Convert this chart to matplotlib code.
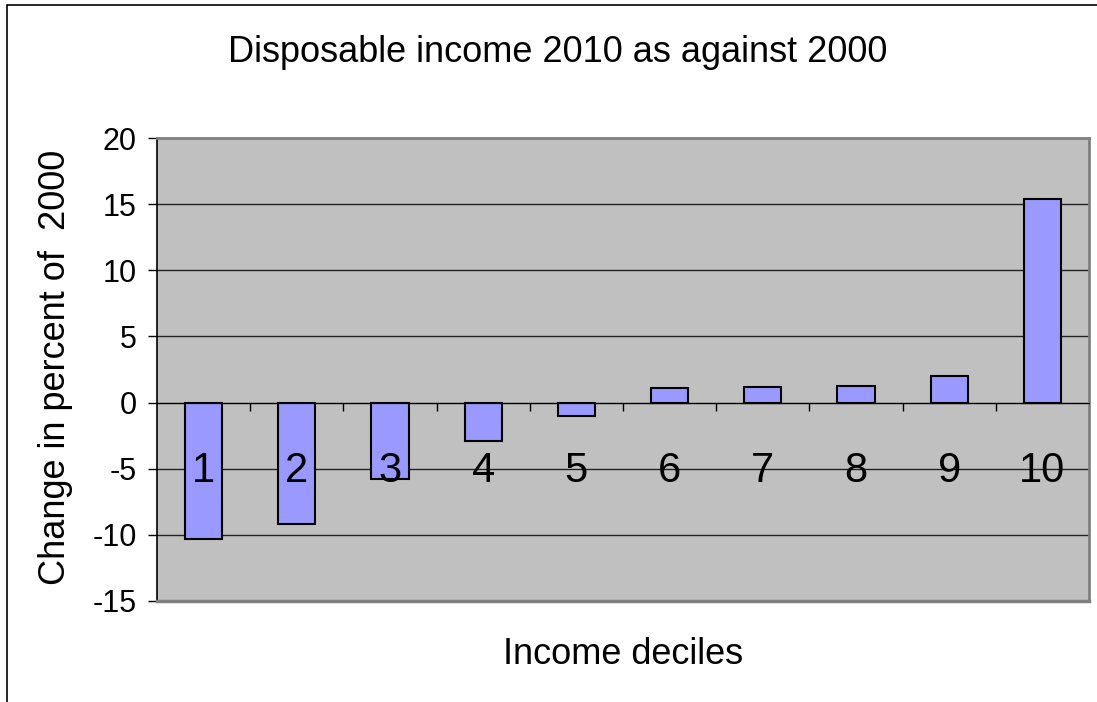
import matplotlib
matplotlib.use("Agg")
import matplotlib.pyplot as plt
from matplotlib.patches import Rectangle
from matplotlib.ticker import FixedLocator

plt.rcParams['font.family'] = ['Liberation Sans', 'DejaVu Sans']

deciles = ['1', '2', '3', '4', '5', '6', '7', '8', '9', '10']
changes = [-10.3, -9.2, -5.75, -2.9, -1.05, 1.08, 1.2, 1.28, 2.0, 15.4]
yticks = [-15, -10, -5, 0, 5, 10, 15, 20]

W, H = 1097, 702
fig = plt.figure(figsize=(W / 100, H / 100), dpi=100)
fig.patch.set_facecolor('white')
fig.patches.append(Rectangle((7 / W, -0.1), 1.2, 1 - 5 / H + 0.1, transform=fig.transFigure,
                             fill=False, edgecolor='black', linewidth=1.2))

l, r, t, b = 157, 1089, 138, 601
ax = fig.add_axes([l / W, 1 - b / H, (r - l) / W, (b - t) / H])
ax.set_facecolor('#C0C0C0')

x = list(range(len(deciles)))
ax.bar(x, changes, width=0.4, color='#9999FF', edgecolor='black', linewidth=1.5, zorder=1.5)

for v in yticks:
    if v not in (yticks[0], yticks[-1]):
        ax.axhline(v, color='#222222', linewidth=1.0, zorder=1)

ax.set_xlim(-0.5, len(deciles) - 0.5)
ax.set_ylim(yticks[0], yticks[-1])
ax.set_yticks(yticks)
ax.set_yticklabels([str(v) for v in yticks])
ax.tick_params(axis='y', direction='out', length=6.5, width=1, pad=8, labelsize=22)

ax.set_xticks(x)
ax.set_xticklabels(deciles)
ax.xaxis.set_minor_locator(FixedLocator([i + 0.5 for i in x[:-1]]))
ax.tick_params(axis='x', which='major', length=0, pad=35, labelsize=30)
ax.tick_params(axis='x', which='minor', direction='out', length=6, width=1)
ax.xaxis.set_zorder(5)

ax.spines['bottom'].set_position(('data', 0))
ax.spines['bottom'].set_color('black')
ax.spines['left'].set_color('black')
ax.spines['left'].set_linewidth(1.2)
for s in ('top', 'right'):
    ax.spines[s].set_color('#808080')
    ax.spines[s].set_linewidth(2)
ax.axhline(yticks[0], color='#808080', linewidth=2.5, zorder=3, clip_on=False)

fig.text(558 / W, 1 - 52 / H, 'Disposable income 2010 as against 2000', fontsize=26,
         ha='center', va='center')
fig.text(623 / W, 1 - 655 / H, 'Income deciles', fontsize=26, ha='center', va='center')
fig.text(56 / W, 1 - 367 / H, 'Change in percent of  2000', fontsize=26, ha='center',
         va='center', rotation=90)

fig.savefig('out.png', dpi=100)
